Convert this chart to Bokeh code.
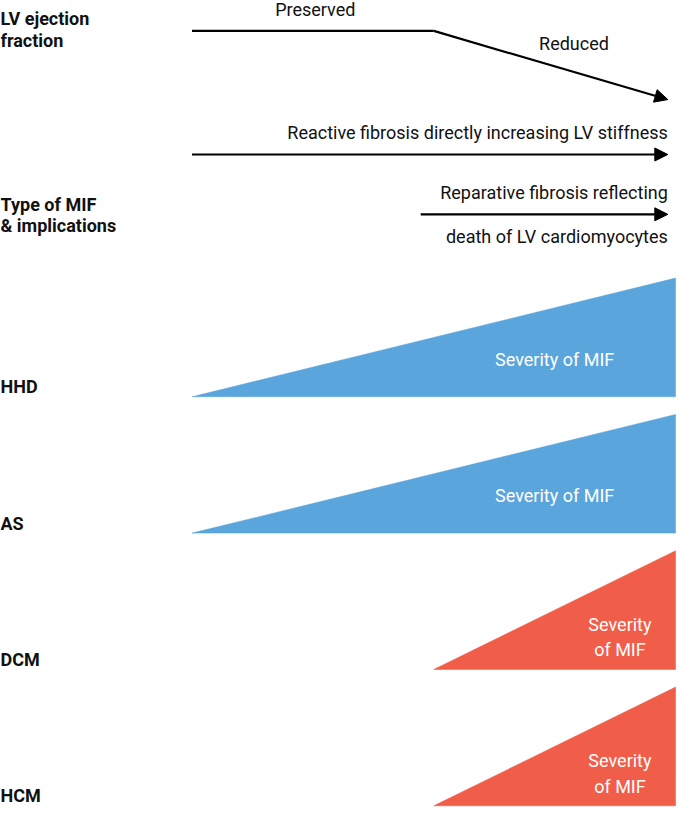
from bokeh.plotting import figure
from bokeh.models import Range1d, Arrow, NormalHead, ColumnDataSource
from bokeh.core.properties import value
from bokeh.embed import file_html
from bokeh.resources import INLINE

# ---- data ----
conditions = ["HHD", "AS", "DCM", "HCM"]
fibrosis_onset = [0.0, 0.0, 0.5, 0.5]      # disease progression where MIF begins
severity_max = [1.0, 1.0, 1.0, 1.0]
severity_text = ["Severity of MIF", "Severity of MIF", "Severity\nof MIF", "Severity\nof MIF"]
cond_colors = ["#5AA5DB", "#5AA5DB", "#F05D48", "#F05D48"]
ef_progress = [0.0, 0.5, 0.984]             # EF path: preserved -> reduced
ef_level = [1.0, 1.0, 0.0]
ef_labels = ["Preserved", "Reduced"]
reactive_span = [0.0, 0.984]
reparative_span = [0.473, 0.984]

FONT = value("Roboto")
REG = "18px"
BOLD = "18px"
# progression t -> horizontal position; vertical in layout pixels
X0, X1 = -196 / 495, (693 - 196) / 495

p = figure(width=677, height=821, x_range=Range1d(X0, X1), y_range=Range1d(837, 0),
           output_backend="svg", toolbar_location=None, min_border=0,
           min_border_left=0, min_border_right=0, min_border_top=0, min_border_bottom=0)
p.xaxis.visible = False
p.yaxis.visible = False
p.grid.visible = False
p.outline_line_color = None

def head():
    return NormalHead(size=13, fill_color="black", line_color="black")

# ---- EF line ----
def ef_y(l):
    return 101 - 70 * l
p.line(ef_progress[:2], [ef_y(v) for v in ef_level[:2]], line_color="black", line_width=2.2)
p.add_layout(Arrow(end=head(),
                   x_start=ef_progress[1], y_start=ef_y(ef_level[1]),
                   x_end=ef_progress[2], y_end=ef_y(ef_level[2]),
                   line_color="black", line_width=2.2))
p.text(x=[0.255, 0.79], y=[9, 44], text=ef_labels, text_font=FONT, text_font_size=REG,
       text_align="center", text_baseline="middle", text_color="#111111")

# ---- fibrosis type arrows ----
p.add_layout(Arrow(end=head(),
                   x_start=reactive_span[0], y_start=157, x_end=reactive_span[1], y_end=157,
                   line_color="black", line_width=2.2))
p.add_layout(Arrow(end=head(),
                   x_start=reparative_span[0], y_start=218, x_end=reparative_span[1], y_end=218,
                   line_color="black", line_width=2.2))
p.text(x=[0.984, 0.984, 0.984], y=[135, 196, 241],
       text=["Reactive fibrosis directly increasing LV stiffness",
             "Reparative fibrosis reflecting", "death of LV cardiomyocytes"],
       text_font=FONT, text_font_size=REG, text_align="right", text_baseline="middle",
       text_color="#111111")

# ---- left headers ----
p.text(x=[X0, X0], y=[18, 41], text=["LV ejection", "fraction"], text_font=FONT,
       text_font_size=BOLD, text_font_style="bold", text_baseline="middle", text_color="#111111")
p.text(x=[X0, X0], y=[208, 229], text=["Type of MIF", "& implications"], text_font=FONT,
       text_font_size=BOLD, text_font_style="bold", text_baseline="middle", text_color="#111111")

# ---- severity wedges ----
H = 121
xs, ys, lx, ly, base_y = [], [], [], [], []
for i, (c, s0, smax) in enumerate(zip(conditions, fibrosis_onset, severity_max)):
    b = 404 + 139 * i
    base_y.append(b)
    xs.append([s0, 1.0, 1.0])
    ys.append([b, b, b - H * smax])
    lx.append(0.75 if s0 == 0 else 0.885)
    ly.append(b - 38 if s0 == 0 else b - 33)
src = ColumnDataSource(dict(xs=xs, ys=ys, color=cond_colors))
p.patches("xs", "ys", fill_color="color", line_color="color", line_width=0.5, source=src)
p.text(x=[X0] * 4, y=[b - 10 for b in base_y], text=conditions, text_font=FONT,
       text_font_size=BOLD, text_font_style="bold", text_baseline="middle", text_color="#111111")
p.text(x=lx, y=ly, text=severity_text, text_font=FONT, text_font_size=REG,
       text_align="center", text_baseline="middle", text_color="white", text_line_height=1.2)

open("out.html", "w").write(file_html(p, INLINE))
